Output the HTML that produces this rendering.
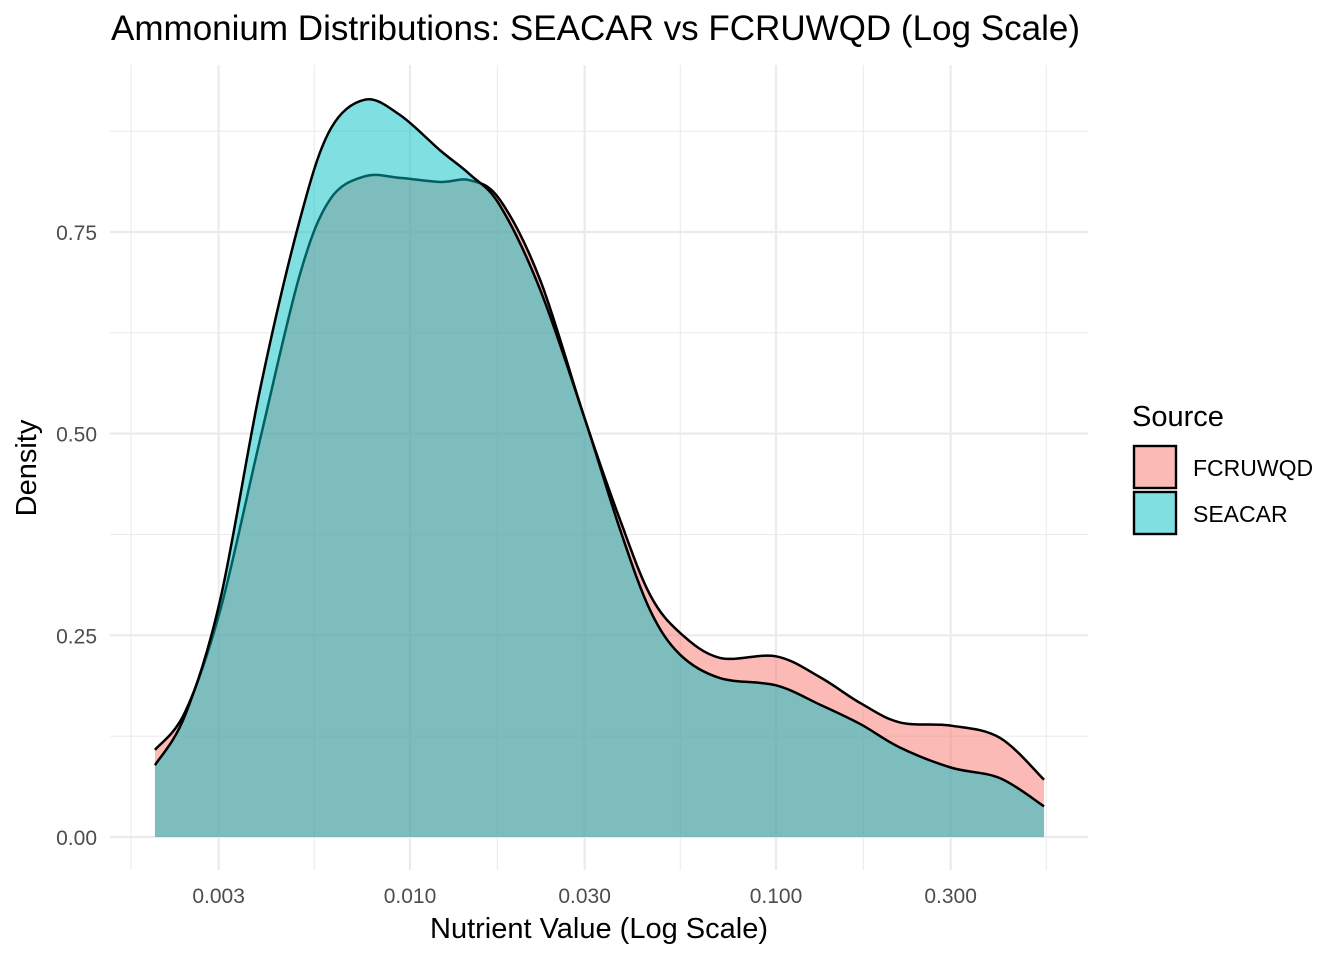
<!DOCTYPE html>
<html><head><meta charset="utf-8"><style>
body{margin:0;background:#fff;font-family:"Liberation Sans",sans-serif}
svg text{font-family:"Liberation Sans",sans-serif}
</style></head><body>
<svg id="chart" width="1344" height="960" xmlns="http://www.w3.org/2000/svg">
<rect width="1344" height="960" fill="#fff"/>
<g id="grid"></g>
<g id="series"></g>
<g id="axes"></g>
<text x="111" y="40" font-size="35" fill="#000" textLength="969" lengthAdjust="spacingAndGlyphs">Ammonium Distributions: SEACAR vs FCRUWQD (Log Scale)</text>
<text x="599" y="938" font-size="29" text-anchor="middle">Nutrient Value (Log Scale)</text>
<text transform="translate(36,468) rotate(-90)" font-size="29" text-anchor="middle">Density</text>
<g>
<text x="1132" y="426" font-size="29">Source</text>
<g>
<rect x="1134" y="446" width="42" height="42" fill="rgba(248,118,109,0.5)" stroke="#000" stroke-width="2.4"/>
<text x="1193" y="476" font-size="23">FCRUWQD</text></g>
<g>
<rect x="1134" y="492" width="42" height="42" fill="rgba(0,191,196,0.5)" stroke="#000" stroke-width="2.4"/>
<text x="1193" y="522" font-size="23">SEACAR</text></g>
</g>
</svg>
<script>
const nutrientValues=[0.00201,0.00243,0.00303,0.00389,0.00500,0.00604,0.00753,0.00939,0.0121,0.0146,0.0176,0.0227,0.0301,0.0375,0.0453,0.0547,0.0703,0.100,0.132,0.170,0.218,0.301,0.409,0.540];
const seacarDensity=[0.089,0.151,0.294,0.554,0.765,0.876,0.914,0.895,0.851,0.821,0.783,0.678,0.517,0.381,0.281,0.226,0.197,0.188,0.164,0.140,0.111,0.086,0.073,0.038];
const fcruwqdDensity=[0.108,0.155,0.281,0.492,0.697,0.790,0.819,0.817,0.812,0.814,0.790,0.690,0.517,0.393,0.300,0.253,0.222,0.224,0.198,0.166,0.142,0.138,0.123,0.071];
const xTicks=[0.003,0.01,0.03,0.1,0.3];
const xTickLabels=["0.003","0.010","0.030","0.100","0.300"];
const yTicks=[0,0.25,0.5,0.75];
const yTickLabels=["0.00","0.25","0.50","0.75"];
const NS="http://www.w3.org/2000/svg";
const xS=v=>410+(Math.log10(v)+2)*366;
const yS=d=>837-d*806.7;
const L=110,R=1088,T=65,B=870;
function mk(tag,attrs,parent){const e=document.createElementNS(NS,tag);for(const k in attrs)e.setAttribute(k,attrs[k]);parent.appendChild(e);return e;}
const grid=document.getElementById('grid'),axes=document.getElementById('axes'),series=document.getElementById('series');
const lx=xTicks.map(v=>Math.log10(v));
const minorX=[];
for(let i=0;i<lx.length-1;i++)minorX.push((lx[i]+lx[i+1])/2);
minorX.push(lx[lx.length-1]+(lx[1]-lx[0])/2);
const minorPx=minorX.map(l=>xS(Math.pow(10,l)));
minorPx.push(131);
minorPx.forEach(x=>{const e=mk('line',{x1:x,x2:x,y1:T,y2:B,stroke:'#ebebeb','stroke-width':1.1},grid);

});
for(let i=0;i<yTicks.length;i++){const y=yS(yTicks[i]+0.125);const e=mk('line',{x1:L,x2:R,y1:y,y2:y,stroke:'#ebebeb','stroke-width':1.1},grid);

}
xTicks.forEach((v,i)=>{const x=xS(v);const e=mk('line',{x1:x,x2:x,y1:T,y2:B,stroke:'#ebebeb','stroke-width':2.2},grid);


const t=mk('text',{x:x,y:903,'font-size':21,'text-anchor':'middle',fill:'#4d4d4d'},axes);t.textContent=xTickLabels[i];

});
yTicks.forEach((v,i)=>{const y=yS(v);const e=mk('line',{x1:L,x2:R,y1:y,y2:y,stroke:'#ebebeb','stroke-width':2.2},grid);


const t=mk('text',{x:97,y:y+8,'font-size':21,'text-anchor':'end',fill:'#4d4d4d'},axes);t.textContent=yTickLabels[i];

});
function smooth(pts){let d='M'+pts[0][0]+','+pts[0][1];
for(let i=0;i<pts.length-1;i++){const p0=pts[Math.max(0,i-1)],p1=pts[i],p2=pts[i+1],p3=pts[Math.min(pts.length-1,i+2)];
d+=' C'+(p1[0]+(p2[0]-p0[0])/6)+','+(p1[1]+(p2[1]-p0[1])/6)+' '+(p2[0]-(p3[0]-p1[0])/6)+','+(p2[1]-(p3[1]-p1[1])/6)+' '+p2[0]+','+p2[1];}
return d;}
function draw(vals,fill,name){const pts=nutrientValues.map((v,i)=>[xS(v),yS(vals[i])]);
const line=smooth(pts);
const x0=pts[0][0],x1=pts[pts.length-1][0],y0=yS(0);
const a=mk('path',{d:'M'+x0+','+y0+' L'+line.slice(1)+' L'+x1+','+y0+' Z',fill:fill,stroke:'none'},series);


const l=mk('path',{d:line,fill:'none',stroke:'#000','stroke-width':2.5},series);

}
draw(fcruwqdDensity,'rgba(248,118,109,0.5)','fcruwqd');
draw(seacarDensity,'rgba(0,191,196,0.5)','seacar');
</script>
</body></html>
